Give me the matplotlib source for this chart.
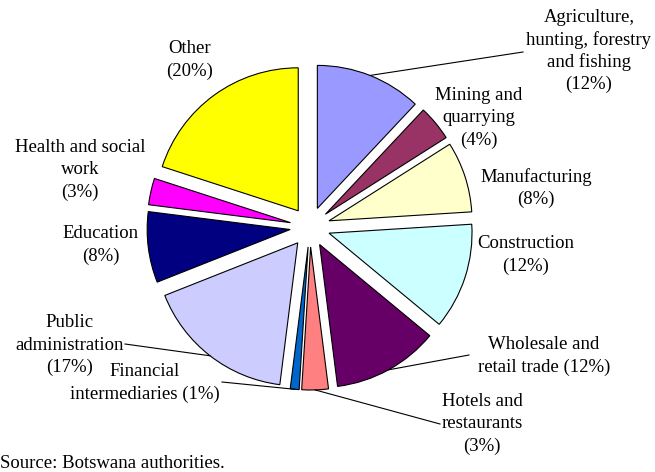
import numpy as np
import matplotlib
matplotlib.use("Agg")
import matplotlib.pyplot as plt

shares = [12, 4, 8, 12, 12, 3, 1, 17, 8, 3, 20]
label_texts = ["Agriculture,\nhunting, forestry\nand fishing\n(12%)", "Mining and\nquarrying\n(4%)",
               "Manufacturing\n(8%)", "Construction\n(12%)", "Wholesale and\nretail trade (12%)",
               "Hotels and\nrestaurants\n(3%)", "Financial\nintermediaries (1%)",
               "Public\nadministration\n(17%)", "Education\n(8%)", "Health and social\nwork\n(3%)",
               "Other\n(20%)"]
colors = ["#9999FF", "#993366", "#FFFFCC", "#CCFFFF", "#660066", "#FF8080",
          "#0066CC", "#CCCCFF", "#000080", "#FF00FF", "#FFFF00"]

W, H = 655, 472
plt.rcParams['font.family'] = ['Liberation Serif', 'DejaVu Serif']
fig = plt.figure(figsize=(W / 100, H / 100), dpi=100)
ax = fig.add_axes([0, 0, 1, 1])

def Y(y):
    return H - y

cx, cy, R, OFF = 310, 227, 143, 20
wedges, _ = ax.pie(shares, explode=[OFF] * len(shares), radius=R, center=(cx, Y(cy)),
                   startangle=90, counterclock=False, colors=colors,
                   wedgeprops=dict(edgecolor="black", linewidth=0.8))

# label positions (pixel coords, centre of text block)
label_pos = [(589, 51), (479, 118), (536, 188), (526, 255), (544, 356), (482, 424),
             (145, 383), (70, 345), (101, 245), (80, 170), (190, 60)]
# leader line text-side ends (None = no leader)
leader_end = [(523, 52), None, None, None, (469, 355), (440, 424),
              (222, 382), (125, 344), None, None, None]

FS = 13.5
LS = 22.5
for i, txt in enumerate(label_texts):
    x, y = label_pos[i]
    lines = txt.split("\n")
    n = len(lines)
    for k, line in enumerate(lines):
        ly = y + (k - (n - 1) / 2) * LS
        ax.text(x, Y(ly), line, ha="center", va="center", fontsize=FS, color="black")
    if leader_end[i] is not None:
        w = wedges[i]
        mid = np.deg2rad((w.theta1 + w.theta2) / 2)
        px = w.center[0] + w.r * np.cos(mid)
        py = w.center[1] + w.r * np.sin(mid)
        ex, ey = leader_end[i]
        ax.plot([px, ex], [py, Y(ey)], color="black", linewidth=0.8)

ax.text(0, Y(463), "Source: Botswana authorities.", ha="left", va="center", fontsize=FS)

ax.set_xlim(0, W)
ax.set_ylim(0, H)
ax.set_aspect("equal")
ax.axis("off")
fig.savefig("out.png", dpi=100)
